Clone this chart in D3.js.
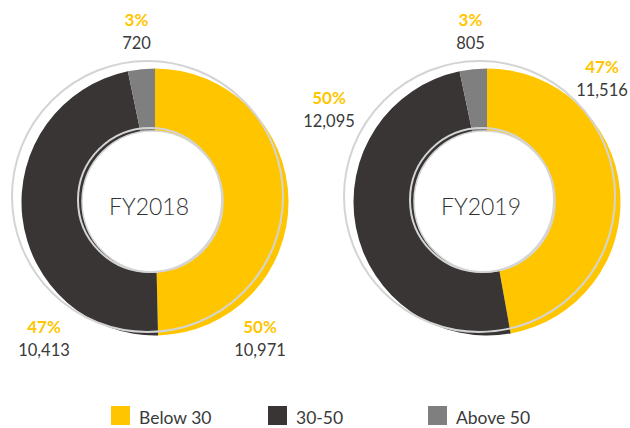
<!DOCTYPE html>
<html>
<head>
<meta charset="utf-8">
<script src="https://cdn.jsdelivr.net/npm/d3@7"></script>
<style>
  html, body { margin: 0; padding: 0; background: #ffffff; }
  svg { display: block; }
  text { font-family: Lato, "Open Sans", sans-serif; }
</style>
</head>
<body>
<svg id="chart" width="630" height="428"></svg>
<script>
// Age bands and their colours
const categories = ["Below 30", "30-50", "Above 50"];
const colors = ["#FFC600", "#393535", "#7F7F7F"];

// Headcount per age band for each fiscal year
const years = ["FY2018", "FY2019"];
const fy2018 = [10971, 10413, 720];
const fy2019 = [11516, 12095, 805];
const series = [fy2018, fy2019];

// Layout
const W = 630, H = 428;
const donutCenters = [[155, 202], [487, 202]];
const outerR = 133.5, innerR = 64;
const holeR = 70.5, holeShift = [-2.5, -0.5];
const ringR = 135.5, ringShift = [-7.5, -5.5];
const innerRingR = 72, innerRingShift = [-5, -2];
const titleShift = -6;

// Label anchors (x centre, percent baseline) per year, in category order
const labelAnchors = [
  [[260, 333], [44, 333], [136.5, 26]],
  [[602, 73], [329, 103.5], [470.5, 26]]
];

const legendX = [111, 268, 428];
const legendY = 406;

const svg = d3.select("#chart");

const color = d3.scaleOrdinal().domain(categories).range(colors);
const pie = d3.pie().sort(null).value(d => d.value);
const arc = d3.arc().innerRadius(innerR).outerRadius(outerR);
const fmt = d3.format(",");

series.forEach((vals, i) => {
  const [cx, cy] = donutCenters[i];
  const data = categories.map((c, k) => ({ cat: c, value: vals[k] }));
  const total = d3.sum(vals);
  const g = svg.append("g");

  // donut slices
  g.append("g")
    .attr("transform", `translate(${cx},${cy})`)
    .selectAll("path")
    .data(pie(data))
    .join("path")
    .attr("d", arc)
    .attr("fill", d => color(d.data.cat));

  // white centre
  g.append("circle")
    .attr("cx", cx + holeShift[0]).attr("cy", cy + holeShift[1])
    .attr("r", holeR)
    .attr("fill", "#ffffff")
    .attr("stroke", "#d6d6d6").attr("stroke-width", 1.5);

  // thin outline rings
  g.append("circle")
    .attr("cx", cx + innerRingShift[0]).attr("cy", cy + innerRingShift[1])
    .attr("r", innerRingR)
    .attr("fill", "none")
    .attr("stroke", "#d4d4d4").attr("stroke-width", 2);
  g.append("circle")
    .attr("cx", cx + ringShift[0]).attr("cy", cy + ringShift[1])
    .attr("r", ringR)
    .attr("fill", "none")
    .attr("stroke", "#d4d4d4").attr("stroke-width", 2);

  // year title
  g.append("text")
    .attr("x", cx + titleShift).attr("y", cy + 13)
    .attr("text-anchor", "middle")
    .attr("font-size", 23)
    .attr("font-weight", 300)
    .attr("fill", "#333333")
    .text(years[i]);

  // value labels
  data.forEach((d, k) => {
    const [lx, ly] = labelAnchors[i][k];
    g.append("text")
      .attr("x", lx).attr("y", ly)
      .attr("text-anchor", "middle")
      .attr("font-size", 17)
      .attr("font-weight", 700)
      .attr("fill", "#FFC600")
      .text(Math.round(d.value / total * 100) + "%");
    g.append("text")
      .attr("x", lx).attr("y", ly + 23)
      .attr("text-anchor", "middle")
      .attr("font-size", 16.5)
      .attr("font-weight", 400)
      .attr("fill", "#3a3a3a")
      .text(fmt(d.value));
  });
});

// legend
const legend = svg.append("g")
  .selectAll("g")
  .data(categories)
  .join("g")
  .attr("transform", (d, k) => `translate(${legendX[k]},${legendY})`);
legend.append("rect")
  .attr("width", 19).attr("height", 19)
  .attr("fill", d => color(d));
legend.append("text")
  .attr("x", 28).attr("y", 18)
  .attr("font-size", 17.5)
  .attr("fill", "#3a3a3a")
  .text(d => d);
</script>
</body>
</html>
